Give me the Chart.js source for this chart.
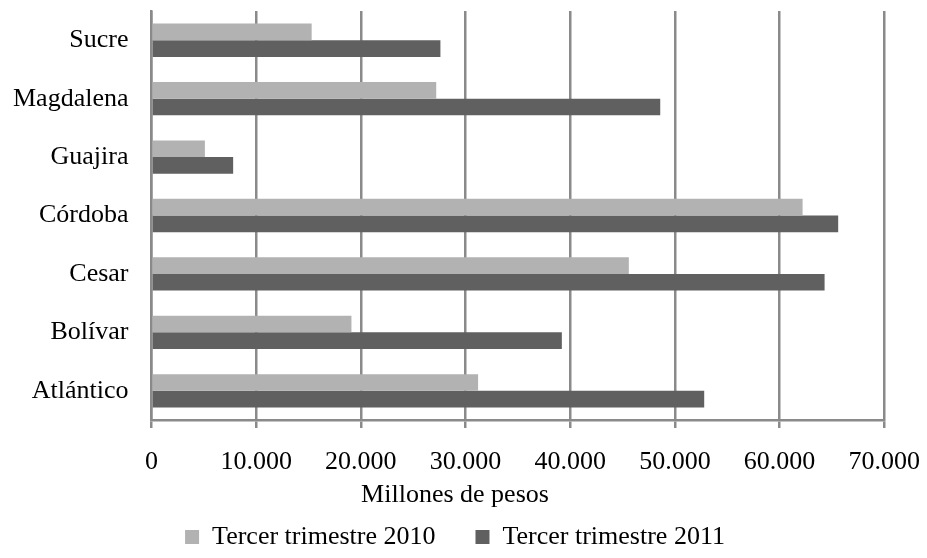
<!DOCTYPE html>
<html>
<head>
<meta charset="utf-8">
<script src="https://cdn.jsdelivr.net/npm/chart.js@4/dist/chart.umd.min.js"></script>
<style>
  body { margin: 0; background: #fff; }
  #caja { width: 927px; height: 558px; }
</style>
</head>
<body>
<div id="caja"><canvas id="chart-barras"></canvas></div>
<script>
// departamentos (de arriba hacia abajo)
const departamentos = ["Sucre", "Magdalena", "Guajira", "Córdoba", "Cesar", "Bolívar", "Atlántico"];
// millones de pesos
const valores2010 = [15300, 27200, 5100, 62200, 45600, 19100, 31200];
const valores2011 = [27600, 48600, 7800, 65600, 64300, 39200, 52800];
const ticksX = [0, 10000, 20000, 30000, 40000, 50000, 60000, 70000];

const fuente = "'Liberation Serif', 'Times New Roman', serif";
const gris = "#8a8a8a";

const formatoMiles = v => v === 0 ? "0" : String(v).replace(/\B(?=(\d{3})+(?!\d))/g, ".");

const contenedor = document.querySelector("#chart-barras").getContext("2d");

const dataChart = {
  labels: departamentos,
  datasets: [
    {
      label: "Tercer trimestre 2010",
      data: valores2010,
      backgroundColor: "#b2b2b2",
      categoryPercentage: 0.57,
      barPercentage: 1,
    },
    {
      label: "Tercer trimestre 2011",
      data: valores2011,
      backgroundColor: "#606060",
      categoryPercentage: 0.57,
      barPercentage: 1,
    },
  ],
};

const configuracion = {
  type: "bar",
  data: dataChart,
  options: {
    indexAxis: "y",
    responsive: true,
    maintainAspectRatio: false,
    animation: false,
    // el relleno derecho solo centra leyenda y titulo, el eje lo fija la etiqueta 70.000
    layout: { padding: { top: 0, left: 13, right: 30, bottom: -2 } },
    scales: {
      x: {
        min: 0,
        max: 70000,
        afterBuildTicks: axis => { axis.ticks = ticksX.map(v => ({ value: v })); },
        afterFit: axis => { axis.height = 64; },
        grid: { color: gris, lineWidth: 2.5, tickLength: 8 },
        border: { color: gris, width: 2.5 },
        ticks: {
          color: "#000",
          padding: 7,
          font: { family: fuente, size: 26, lineHeight: 2.08 },
          callback: v => formatoMiles(v),
        },
      },
      y: {
        grid: { color: "rgba(0,0,0,0)", drawOnChartArea: false, tickLength: 23 },
        border: { color: gris, width: 2.5 },
        ticks: {
          color: "#000",
          padding: 0,
          font: { family: fuente, size: 26, lineHeight: 0.85 },
        },
      },
    },
    plugins: {
      tooltip: { enabled: false },
      title: {
        display: true,
        position: "bottom",
        text: "Millones de pesos",
        color: "#000",
        weight: 500,
        font: { family: fuente, size: 26, weight: "normal" },
        padding: { top: -4.6, bottom: -26.6 },
      },
      legend: {
        position: "bottom",
        maxHeight: 76,
        labels: {
          color: "#000",
          boxWidth: 14,
          boxHeight: 14,
          padding: 40,
          font: { family: fuente, size: 26 },
        },
      },
    },
  },
};

const chartBarras = new Chart(contenedor, configuracion);
</script>
</body>
</html>
